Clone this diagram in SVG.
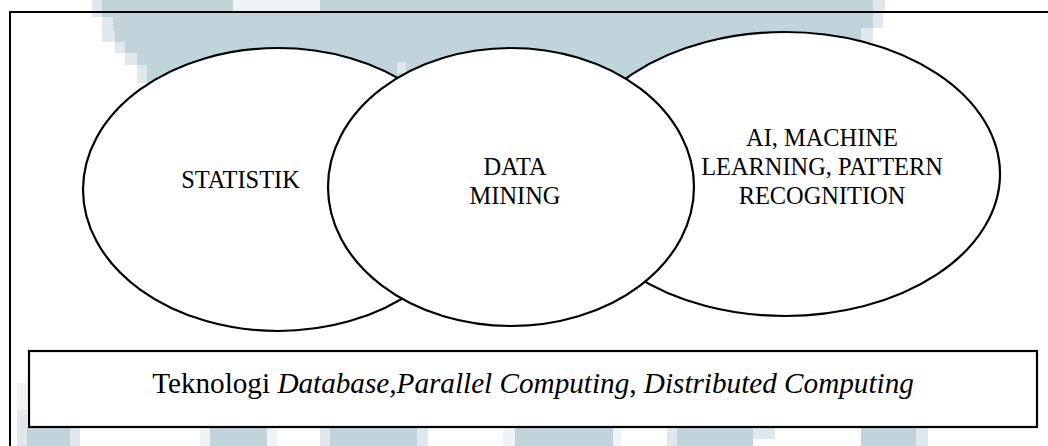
<svg xmlns="http://www.w3.org/2000/svg" width="1048" height="446" viewBox="0 0 1048 446">
  <style>
    .wm { fill: #c2d4db; }
    .wm-soft { fill: #dfe9ed; }
    .wm-faint { fill: #eef4f6; }
    .frame { fill: none; stroke: #000; stroke-width: 2; }
    .set { fill: #fff; stroke: #000; stroke-width: 2.2; }
    .label { font-family: "Liberation Serif", "Times New Roman", serif; font-size: 24.4px; fill: #000; text-anchor: middle; }
    .base { font-family: "Liberation Serif", "Times New Roman", serif; font-size: 29.2px; fill: #000; text-anchor: middle; }
  </style>

  <rect width="1048" height="446" fill="#fff"/>

  <!-- background watermark blocks -->
  <g id="watermark">
    <path class="wm-soft" d="M92,0 H885 V13 H883 V28 H873 V42 H861 V53 H851 V65 H841 V83 H838 V97 H828 V113 H818 V120 H160 V83 H137 V65 H125 V53 H115 V42 H102 V17 H92 Z"/>
    <path class="wm" d="M102,0 H873 V28 H861 V42 H851 V53 H841 V65 H838 V83 H828 V97 H808 V113 H160 V83 H147 V65 H137 V53 H125 V42 H115 V30 H113 V17 H102 Z"/>
    <rect class="wm-faint" x="233" y="0" width="87" height="11"/>
    <rect class="wm-soft" x="397" y="62" width="9" height="11"/>
    <!-- strip under the base box -->
    <rect class="wm-faint" x="17" y="383" width="10" height="27"/>
    <rect class="wm-soft" x="17" y="410" width="10" height="36"/>
    <rect class="wm" x="27" y="427" width="43" height="19"/>
    <rect class="wm-soft" x="70" y="427" width="10" height="19"/>
    <rect class="wm-faint" x="200" y="427" width="10" height="19"/>
    <rect class="wm" x="210" y="427" width="57" height="19"/>
    <rect class="wm-faint" x="267" y="427" width="10" height="19"/>
    <rect class="wm-soft" x="320" y="427" width="10" height="19"/>
    <rect class="wm" x="330" y="427" width="87" height="19"/>
    <rect class="wm-soft" x="417" y="427" width="11" height="19"/>
    <rect class="wm-faint" x="503" y="427" width="12" height="19"/>
    <rect class="wm" x="515" y="427" width="98" height="19"/>
    <rect class="wm-faint" x="613" y="427" width="8" height="19"/>
    <rect class="wm-soft" x="667" y="427" width="10" height="19"/>
    <rect class="wm" x="677" y="427" width="76" height="19"/>
    <rect class="wm-soft" x="753" y="427" width="22" height="12"/>
    <rect class="wm" x="861" y="427" width="55" height="19"/>
    <rect class="wm-soft" x="916" y="427" width="12" height="19"/>
  </g>

  <!-- outer frame, running off the right and bottom edges -->
  <path class="frame" d="M10,446 V12 H1048"/>

  <g id="statistik">
    <ellipse class="set" cx="278" cy="189.5" rx="195" ry="141.5"/>
    <text class="label" x="240.5" y="188">STATISTIK</text>
  </g>

  <g id="ai-ml-pr">
    <ellipse class="set" cx="785" cy="174" rx="215" ry="142"/>
    <text class="label" x="822" y="146">AI, MACHINE</text>
    <text class="label" x="822" y="175">LEARNING, PATTERN</text>
    <text class="label" x="822" y="204">RECOGNITION</text>
  </g>

  <g id="data-mining">
    <ellipse class="set" cx="511" cy="187" rx="183" ry="139"/>
    <text class="label" x="515" y="175">DATA</text>
    <text class="label" x="515" y="204">MINING</text>
  </g>

  <g id="teknologi">
    <rect class="set" x="29" y="351" width="1008" height="76"/>
    <text class="base" x="533" y="393">Teknologi <tspan font-style="italic">Database,Parallel Computing</tspan>, <tspan font-style="italic">Distributed Computing</tspan></text>
  </g>

  <g id="connectors"/>
</svg>
